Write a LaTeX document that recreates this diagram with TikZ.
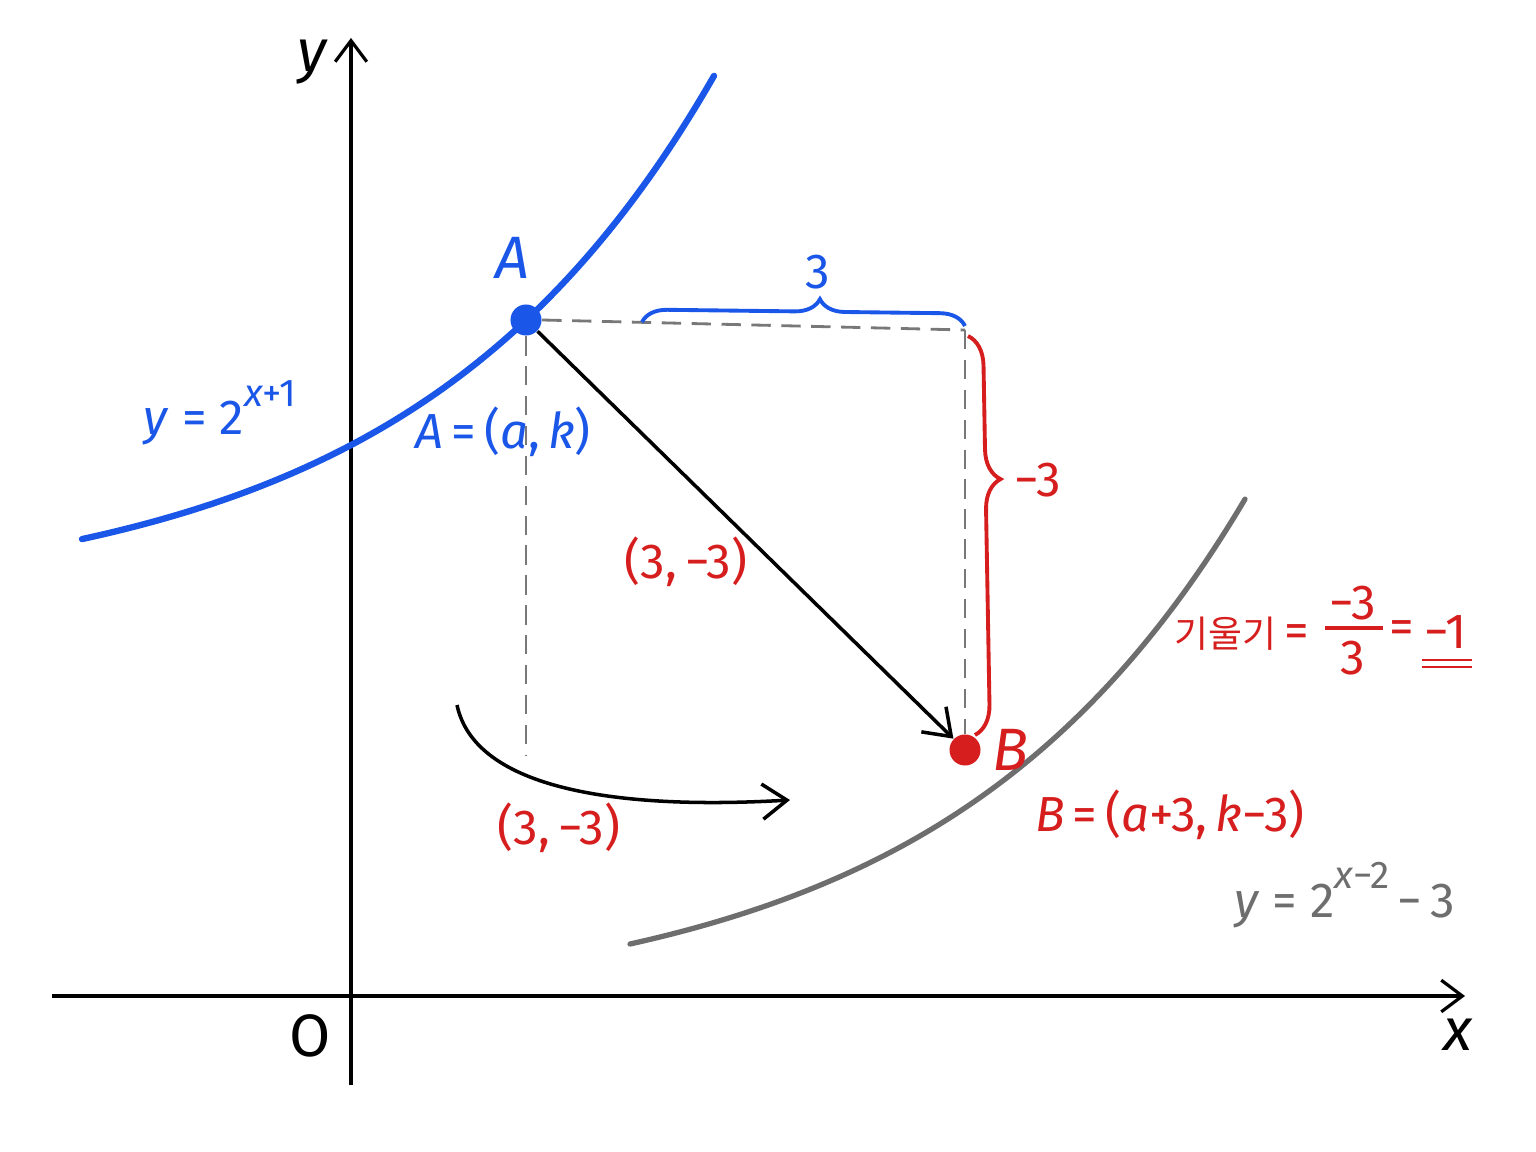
\documentclass[tikz,border=0pt]{standalone}
\usepackage{fontspec}
\setmainfont{Fira Sans}
\newfontfamily\kr{Noto Sans CJK KR}
\usetikzlibrary{arrows.meta,decorations.pathreplacing}
\definecolor{myblue}{RGB}{26,86,232}
\definecolor{myred}{RGB}{214,30,30}
\definecolor{mygray}{RGB}{110,110,110}
\definecolor{dashgray}{RGB}{120,120,120}
\begin{document}
\begin{tikzpicture}[x=0.01cm,y=-0.01cm,
  lbl/.style={font=\fontsize{14}{17}\selectfont, inner sep=0pt},
  biglbl/.style={font=\fontsize{17}{20}\selectfont, inner sep=0pt},
  axisline/.style={line width=0.9pt, -{Straight Barb[length=6pt,width=9pt,line width=0.9pt]}},
  guide/.style={dashgray, line width=0.8pt, dash pattern=on 5.5pt off 3pt},
  tip/.style={-{Straight Barb[length=7pt,width=10pt,line width=1pt]}},
  pt/.style={circle, inner sep=0pt, minimum size=0.31cm},
]
\useasboundingbox (0,0) rectangle (1536,1152);
\fill[white] (0,0) rectangle (1536,1152);

% axes
\coordinate (xs) at (52,996);
\coordinate (xe) at (1465,996);
\coordinate (ys) at (351,1085);
\coordinate (ye) at (351,38);
\draw[axisline] (xs) -- (xe);
\draw[axisline] (ys) -- (ye);
\node[biglbl] (ylab) at (312,62) {\itshape y};
\node[biglbl] (xlab) at (1458,1035) {\itshape x};
\node[biglbl] (olab) at (310,1036) {O};

% curves
\draw[myblue, line width=1.8pt, line cap=round] plot[domain=82:714, samples=80, smooth] (\x, {605 - 50.3*exp(0.0033*\x)});
\draw[mygray, line width=1.5pt, line cap=round] plot[domain=630:1245, samples=80, smooth] (\x, {1011.5 - 67.5*exp(0.0033*(\x-630))});

% points
\node[pt, fill=myblue] (A) at (526,320) {};
\node[pt, fill=myred] (B) at (965,750) {};
\coordinate (C) at (965,330);
\coordinate (Ad) at (526,755);

% guides
\draw[guide] (A.east) -- (C);
\draw[guide] (C) -- (B.north);
\draw[guide] (A.south) -- (Ad);

% main arrow
\draw[black, line width=1pt, tip] (A) -- (B);

% braces
\coordinate (hb1) at (642,322);
\coordinate (hb2) at (965,326);
\draw[myblue, line width=1.1pt, decorate, decoration={brace, amplitude=0.25cm, aspect=0.55}] (hb1) -- (hb2);
\coordinate (vb1) at (968,336);
\coordinate (vb2) at (975,735);
\draw[myred, line width=1.1pt, decorate, decoration={brace, amplitude=0.3cm, aspect=0.36}] (vb1) -- (vb2);

% curved arrow
\coordinate (cs) at (457,705);
\coordinate (ce) at (790,800);
\draw[black, line width=1pt, tip] (cs) .. controls (475,790) and (620,810) .. (ce);

% labels
\node[biglbl, myblue] (Alab) at (512,258) {\itshape A};
\node[biglbl, myred] (Blab) at (1010,750) {\itshape B};
\node[lbl, myblue] (blue3) at (818,272) {3};
\node[lbl, myred] (redm3) at (1038,480) {−3};
\node[lbl, myblue] (feq1) at (220,413) {\itshape y\/ \upshape = 2\raisebox{1.1ex}{\fontsize{11}{12}\selectfont\itshape x\upshape +1}};
\node[lbl, myblue] (Aeq) at (503,432) {\itshape A\upshape\,=\,(\itshape a\upshape,\,\itshape k\upshape)};
\node[lbl, myred] (v1) at (686,562) {(3,\,−3)};
\node[lbl, myred] (v2) at (559,828) {(3,\,−3)};
\node[lbl, myred] (Beq) at (1170,815) {\itshape B\upshape\,=\,(\itshape a\upshape+3,\,\itshape k\upshape−3)};
\node[lbl, mygray] (feq2) at (1345,895) {\itshape y\/ \upshape = 2\raisebox{1.1ex}{\fontsize{11}{12}\selectfont\itshape x\upshape−2}\,−\,3};

% slope
\node[lbl, myred, anchor=east] (slope) at (1310,634) {{\kr\fontsize{10.5}{12}\selectfont 기울기}\,=};
\node[lbl, myred] (num) at (1353,603) {−3};
\node[lbl, myred] (den) at (1353,658) {3};
\coordinate (fb1) at (1325,628);
\coordinate (fb2) at (1383,628);
\draw[myred, line width=0.9pt] (fb1) -- (fb2);
\node[lbl, myred] (eq2) at (1402,632) {=};
\node[lbl, myred] (res) at (1446,632) {−1};
\coordinate (u1) at (1422,660);
\coordinate (u2) at (1472,660);
\coordinate (u3) at (1422,667);
\coordinate (u4) at (1472,667);
\draw[myred, line width=0.8pt] (u1) -- (u2);
\draw[myred, line width=0.8pt] (u3) -- (u4);
\end{tikzpicture}
\end{document}
